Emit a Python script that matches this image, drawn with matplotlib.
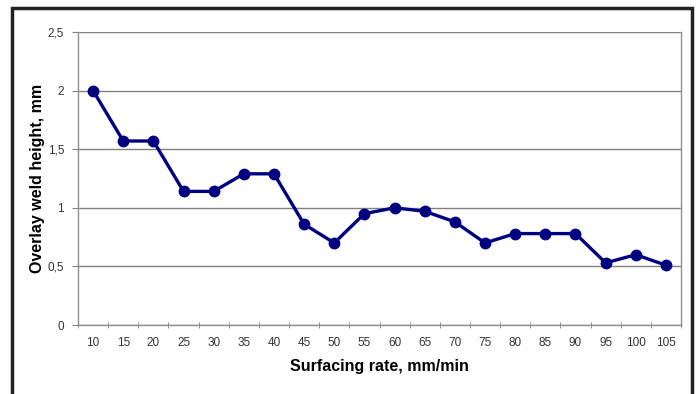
import matplotlib
matplotlib.use("Agg")
import matplotlib.pyplot as plt
from matplotlib.patches import Rectangle
from matplotlib.ticker import FixedLocator

rates = [10, 15, 20, 25, 30, 35, 40, 45, 50, 55, 60, 65, 70, 75, 80, 85, 90, 95, 100, 105]
heights = [2.0, 1.57, 1.57, 1.14, 1.14, 1.29, 1.29, 0.86, 0.70, 0.95, 1.0, 0.97,
           0.88, 0.70, 0.78, 0.78, 0.78, 0.53, 0.60, 0.51]
yticks = [0, 0.5, 1, 1.5, 2, 2.5]
ytick_labels = ["0", "0,5", "1", "1,5", "2", "2,5"]

plt.rcParams['font.family'] = ['Liberation Sans', 'DejaVu Sans']

fig = plt.figure(figsize=(7, 3.94), dpi=100)
W, H = 700, 394
ax = fig.add_axes([78 / W, 1 - 325 / H, (681 - 78) / W, (325 - 32) / H])

x = list(range(len(rates)))
ax.plot(x, heights, color='#000080', lw=2.4, marker='o', ms=7.5, mfc='#000080', mec='#000080', zorder=3)

ax.set_xlim(-0.5, len(rates) - 0.5)
ax.set_ylim(0, 2.5)
ax.set_yticks(yticks)
ax.set_yticklabels(ytick_labels)
ax.set_xticks(x)
ax.set_xticklabels([str(r) for r in rates])
ax.xaxis.set_minor_locator(FixedLocator([i - 0.5 for i in range(len(rates) + 1)]))
ax.tick_params(axis='x', which='major', length=0, pad=9, labelsize=8.5, labelcolor='#333333')
ax.tick_params(axis='x', which='minor', length=4, direction='inout', color='#808080')
ax.tick_params(axis='y', length=4, color='#808080', labelsize=8.5, labelcolor='#333333', pad=6)

ax.grid(axis='y', color='#808080', lw=1.0)
ax.set_axisbelow(True)
for s in ['left', 'bottom', 'right', 'top']:
    ax.spines[s].set_color('#909090')
    ax.spines[s].set_linewidth(1.0)
ax.spines['top'].set_visible(False)

ax.set_xlabel("Surfacing rate, mm/min", fontsize=11.5, fontweight='bold', labelpad=7)
ax.set_ylabel("Overlay weld height, mm", fontsize=11.5, fontweight='bold', labelpad=2)

fig.patches.append(Rectangle((12 / W, -0.05), (692 - 12) / W, 1.05 - 8 / H,
                             transform=fig.transFigure, fill=False, ec='#222222', lw=2.5))

fig.savefig("out.png", dpi=100)
